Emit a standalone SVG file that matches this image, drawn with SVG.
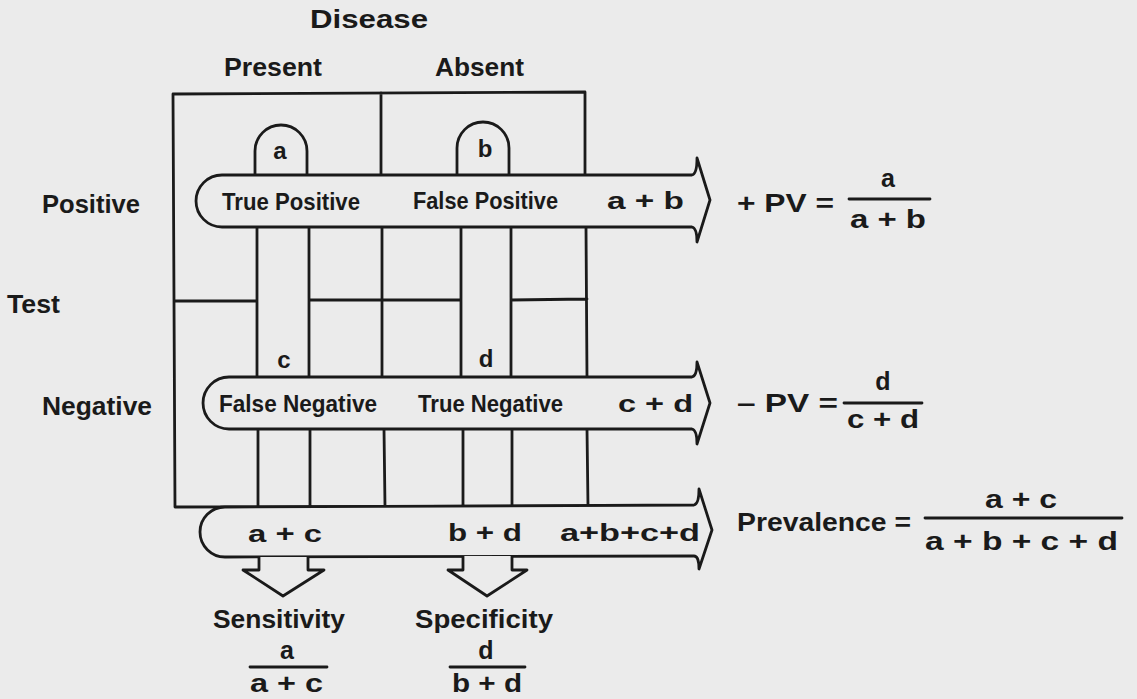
<svg xmlns="http://www.w3.org/2000/svg" width="1137" height="699" viewBox="0 0 1137 699">
<defs>
<style>
.bg{fill:#ebebeb}
.ln{fill:none;stroke:#1a1a1a;stroke-width:2.8;stroke-linejoin:round;stroke-linecap:round}
.band{fill:#ebebeb;stroke:#1a1a1a;stroke-width:2.8;stroke-linejoin:round}
text{font-family:"Liberation Sans",Arial,Helvetica,sans-serif;font-weight:bold;fill:#1a1a1a}
.hd{font-size:25px}
.bt{font-size:24px}
.fm{font-size:25px}
.mid{text-anchor:middle}
</style>
</defs>
<rect class="bg" x="0" y="0" width="1137" height="699"/>

<g id="headers">
<text class="hd" x="310" y="28" textLength="118" lengthAdjust="spacingAndGlyphs">Disease</text>
<text class="hd" x="224" y="76" textLength="98" lengthAdjust="spacingAndGlyphs">Present</text>
<text class="hd" x="435" y="76" textLength="89" lengthAdjust="spacingAndGlyphs">Absent</text>
</g>
<g id="row-labels">
<text class="hd" x="42" y="213" textLength="98" lengthAdjust="spacingAndGlyphs">Positive</text>
<text class="hd" x="7" y="313" textLength="53" lengthAdjust="spacingAndGlyphs">Test</text>
<text class="hd" x="42" y="415" textLength="110" lengthAdjust="spacingAndGlyphs">Negative</text>
</g>

<g id="grid">
<path class="ln" d="M173,94 L585,92 M173,94 L175,507 M585,92 L585,175 M586,227 L587,377 M587,429 L588,507 M381,93 L381,175 M382,227 L382,377 M384,429 L385,507 M257,227 L257,377 M309,227 L309,377 M461,227 L461,377 M511,227 L511,377 M258,429 L258,507 M310,429 L310,507 M463,429 L463,507 M512,429 L512,507 M174,301 L257,301 M309,300 L461,300 M511,300 L587,299 M175,507 L600,506"/>
</g>

<g id="bump-a">
<path class="band" d="M255,175 L255,151 A26,26 0 0 1 307,151 L307,175"/>
<text class="bt mid" x="280" y="159">a</text>
</g>
<g id="bump-b">
<path class="band" d="M457,175 L457,148 A26,26 0 0 1 509,148 L509,175"/>
<text class="bt mid" x="485" y="157">b</text>
</g>

<g id="band-positive">
<path class="band" d="M222,175 L692,175 Q697,174 697,158 L710,200 L697,242 Q697,228 692,227 L222,227 A26,26 0 0 1 222,175 Z"/>
<text class="bt" x="222" y="210" textLength="138" lengthAdjust="spacingAndGlyphs">True Positive</text>
<text class="bt" x="413" y="209" textLength="145" lengthAdjust="spacingAndGlyphs">False Positive</text>
<text class="bt" x="607" y="209" textLength="77" lengthAdjust="spacingAndGlyphs">a + b</text>
</g>

<g id="column-labels">
<text class="bt mid" x="284" y="368">c</text>
<text class="bt mid" x="486" y="367">d</text>
</g>

<g id="band-negative">
<path class="band" d="M229,377 L692,377 Q697,376 697,362 L710,403 L697,444 Q697,430 692,429 L229,429 A26,26 0 0 1 229,377 Z"/>
<text class="bt" x="219" y="412" textLength="158" lengthAdjust="spacingAndGlyphs">False Negative</text>
<text class="bt" x="418" y="412" textLength="145" lengthAdjust="spacingAndGlyphs">True Negative</text>
<text class="bt" x="618" y="412" textLength="75" lengthAdjust="spacingAndGlyphs">c + d</text>
</g>

<g id="band-total">
<path class="band" d="M225,507 L694,505 Q699,504 699,489 L712,530 L699,569 Q699,556 694,556 L225,557 A25,25 0 0 1 225,507 Z"/>
<text class="bt" x="248" y="542" textLength="74" lengthAdjust="spacingAndGlyphs">a + c</text>
<text class="bt" x="448" y="541" textLength="74" lengthAdjust="spacingAndGlyphs">b + d</text>
<text class="bt" x="560" y="541" textLength="140" lengthAdjust="spacingAndGlyphs">a+b+c+d</text>
</g>

<g id="connectors">
<path class="band" d="M259,557 L259,570 L243,570 L283,596 L324,570 L308,570 L308,557"/>
<path class="band" d="M463,556 L463,570 L448,570 L487,596 L527,570 L512,570 L512,556"/>
</g>

<g id="ppv">
<text class="fm" x="737" y="212" textLength="97" lengthAdjust="spacingAndGlyphs">+ PV =</text>
<text class="fm mid" x="888" y="187">a</text>
<path class="ln" d="M849,199 L930,199"/>
<text class="fm" x="850" y="228" textLength="76" lengthAdjust="spacingAndGlyphs">a + b</text>
</g>
<g id="npv">
<text class="fm" x="737" y="412" textLength="101" lengthAdjust="spacingAndGlyphs">– PV =</text>
<text class="fm mid" x="883" y="390">d</text>
<path class="ln" d="M844,403 L922,403"/>
<text class="fm" x="847" y="428" textLength="72" lengthAdjust="spacingAndGlyphs">c + d</text>
</g>
<g id="prevalence">
<text class="fm" x="737" y="531" textLength="174" lengthAdjust="spacingAndGlyphs">Prevalence =</text>
<text class="fm" x="985" y="508" textLength="72" lengthAdjust="spacingAndGlyphs">a + c</text>
<path class="ln" d="M925,518 L1122,518"/>
<text class="fm" x="925" y="550" textLength="193" lengthAdjust="spacingAndGlyphs">a + b + c + d</text>
</g>
<g id="sensitivity">
<text class="fm" x="213" y="628" textLength="132" lengthAdjust="spacingAndGlyphs">Sensitivity</text>
<text class="fm mid" x="287" y="659" font-size="24">a</text>
<path class="ln" d="M250,667 L327,667"/>
<text class="fm" x="250" y="692" textLength="73" lengthAdjust="spacingAndGlyphs">a + c</text>
</g>
<g id="specificity">
<text class="fm" x="415" y="628" textLength="138" lengthAdjust="spacingAndGlyphs">Specificity</text>
<text class="fm mid" x="486" y="659" font-size="24">d</text>
<path class="ln" d="M450,667 L525,667"/>
<text class="fm" x="452" y="692" textLength="70" lengthAdjust="spacingAndGlyphs">b + d</text>
</g>
</svg>
